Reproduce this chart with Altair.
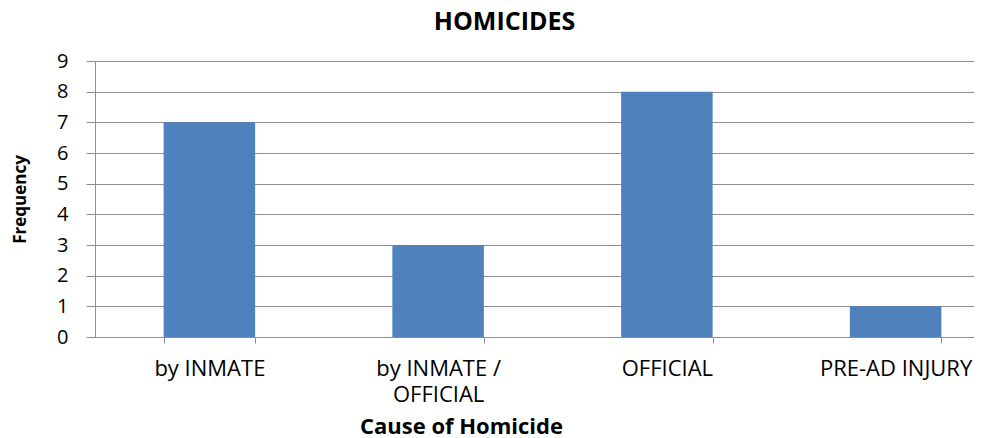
import altair as alt
import pandas as pd

causes = ["by INMATE", "by INMATE / OFFICIAL", "OFFICIAL", "PRE-AD INJURY"]
frequency = [7, 3, 8, 1]
y_ticks = list(range(0, 10))

df = pd.DataFrame({"cause": causes, "freq": frequency})

FONT = "Open Sans"
GRID = "#8E8E8E"
TXT = "#000000"

chart = alt.Chart(df).mark_bar(color="#4F81BD").encode(
    x=alt.X(
        "cause:N",
        sort=causes,
        scale=alt.Scale(range=[0, 915], paddingInner=0.6, paddingOuter=0.3),
        axis=alt.Axis(
            title="Cause of Homicide",
            labelAngle=0,
            tickBand="extent",
            tickSize=6,
            tickColor=GRID,
            domainColor=GRID,
            labelFont=FONT,
            labelFontSize=22,
            labelColor=TXT,
            labelPadding=15,
            labelLineHeight=26,
            labelExpr="split(replace(datum.label, ' / ', ' /\\n'), '\\n')",
            titleFont=FONT,
            titleFontSize=22,
            titleFontWeight="bold",
            titleColor=TXT,
            titleX=366,
            titleY=89,
            titleAlign="center",
            titleBaseline="middle",
        ),
    ),
    y=alt.Y(
        "freq:Q",
        scale=alt.Scale(domain=[0, 9], nice=False),
        axis=alt.Axis(
            title="Frequency",
            values=y_ticks,
            tickSize=9,
            tickColor=GRID,
            domainColor=GRID,
            grid=True,
            gridColor=GRID,
            gridOpacity=1,
            labelFont=FONT,
            labelFontSize=20,
            labelColor=TXT,
            labelPadding=18,
            titleFont=FONT,
            titleFontSize=17,
            titleFontWeight="bold",
            titleColor=TXT,
            titleX=-75,
            titleY=138,
            titleAngle=270,
            titleAlign="center",
            titleBaseline="middle",
        ),
    ),
).properties(
    width=879,
    height=276,
    autosize=alt.AutoSizeParams(type="none"),
    padding={"left": 87, "top": 53, "right": 0, "bottom": 100},
    title=alt.TitleParams(
        "HOMICIDES",
        font=FONT,
        fontSize=25,
        fontWeight="bold",
        color=TXT,
        anchor="middle",
        frame="group",
        dx=-30,
        dy=4,
        offset=0,
        baseline="alphabetic",
    ),
).configure_view(stroke=None).configure(background="white")

chart.save("out.html", embed_options={"renderer": "svg", "actions": False})
